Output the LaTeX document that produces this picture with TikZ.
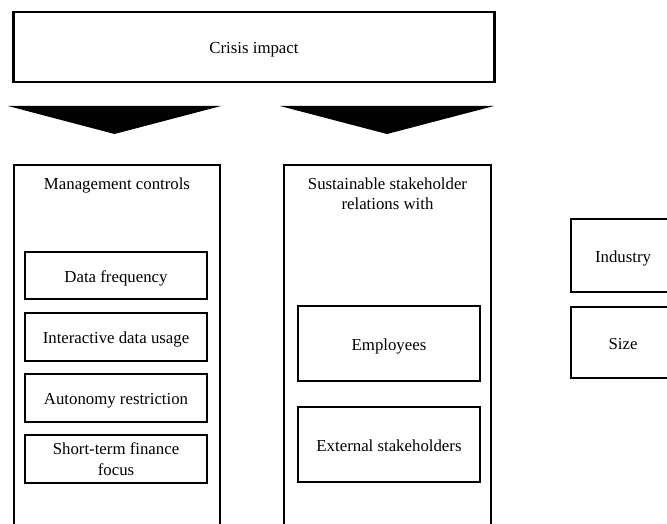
\documentclass[tikz,border=0pt]{standalone}
\usepackage{fontspec}
\setmainfont{Liberation Serif}
\begin{document}
\begin{tikzpicture}[x=1pt,y=-1pt,
  box/.style={draw=black, line width=2.2pt, rectangle, inner sep=0pt, outer sep=0pt, align=center,
    font=\fontsize{16.8}{21}\selectfont},
  title/.style={inner sep=0pt, align=center, font=\fontsize{16.8}{20}\selectfont},
  onel/.style={text height=13pt, text depth=0pt},
  arrowshape/.style={fill=black}]
\useasboundingbox (0,0) rectangle (667,524);
\clip (0,0) rectangle (667,524);
% top box
\node[box, onel, minimum width=481pt, minimum height=70pt] (crisis) at (254,47) {Crisis impact};
% wide arrows
\coordinate (la1) at (8,106); \coordinate (la2) at (221,106); \coordinate (lat) at (114.5,134);
\coordinate (ra1) at (280,106); \coordinate (ra2) at (494,106); \coordinate (rat) at (387,134);
\fill[arrowshape] (la1) -- (la2) -- (lat) -- cycle;
\fill[arrowshape] (ra1) -- (ra2) -- (rat) -- cycle;
% left column
\node[box, minimum width=206pt, minimum height=420pt] (mc) at (117,375) {};
\node[title, onel] (mctitle) at (117,183) {Management controls};
\node[box, onel, minimum width=182pt, minimum height=47pt] (df) at (116,275.5) {Data frequency};
\node[box, onel, minimum width=182pt, minimum height=48pt] (idu) at (116,337) {Interactive data usage};
\node[box, onel, minimum width=182pt, minimum height=48pt] (ar) at (116,398) {Autonomy restriction};
\node[box, minimum width=182pt, minimum height=48pt] (stf) at (116,459) {Short-term finance\\focus};
% middle column
\node[box, minimum width=207pt, minimum height=420pt] (ssr) at (387.5,375) {};
\node[title] (ssrtitle) at (387.5,193.5) {Sustainable stakeholder\\relations with};
\node[box, onel, minimum width=182pt, minimum height=75pt] (emp) at (389,343.5) {Employees};
\node[box, onel, minimum width=182pt, minimum height=75pt] (ext) at (389,444.5) {External stakeholders};
% right column
\node[box, minimum width=140pt, minimum height=73pt] (ind) at (641,255.5) {};
\node[title, onel] (indt) at (623,255.5) {Industry};
\node[box, minimum width=140pt, minimum height=71pt] (size) at (641,342.5) {};
\node[title, onel] (sizet) at (623,342.5) {Size};
\end{tikzpicture}
\end{document}
